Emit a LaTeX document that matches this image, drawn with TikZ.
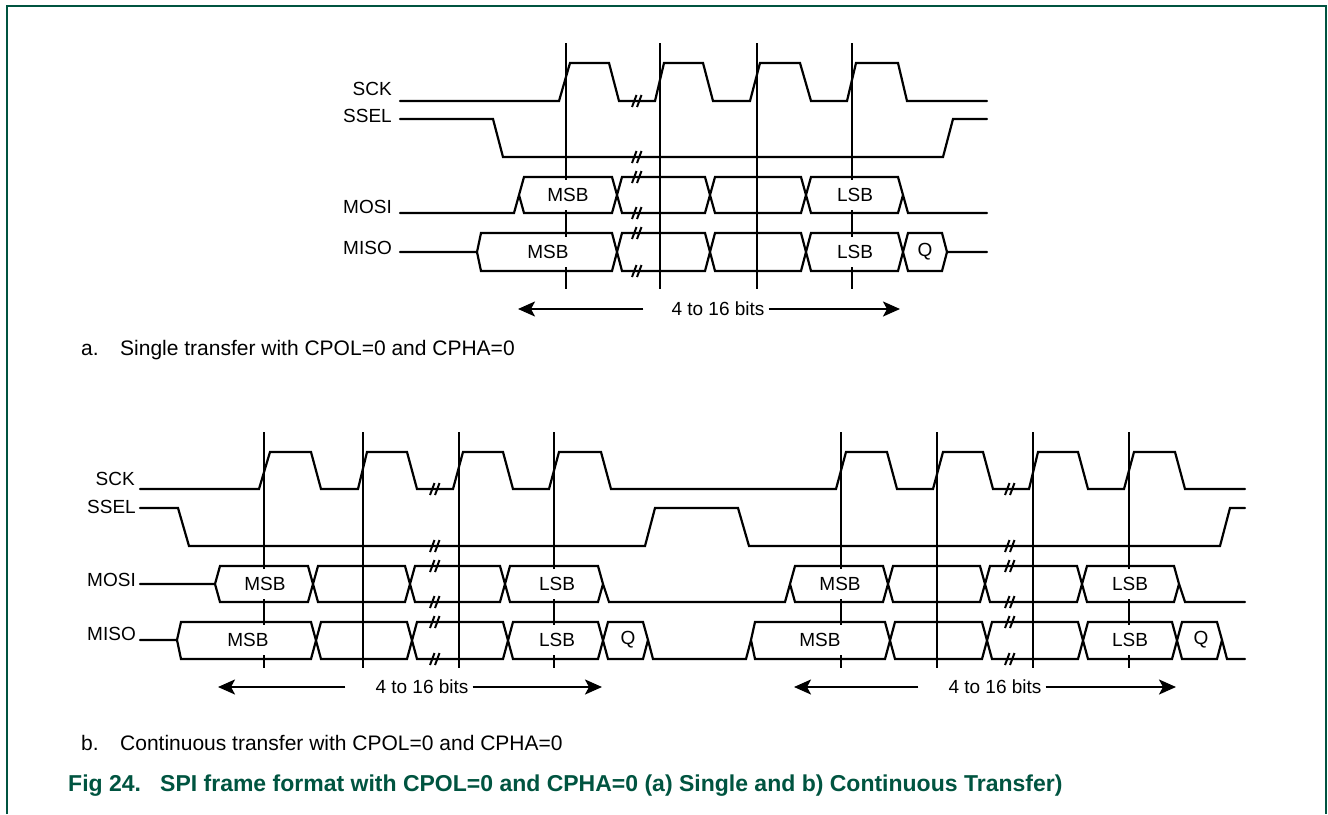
\documentclass[tikz,border=0pt]{standalone}
\usepackage{fontspec}
\setmainfont{Liberation Sans}
\usetikzlibrary{arrows.meta}
\definecolor{figgreen}{RGB}{0,84,64}

\begin{document}
\begin{tikzpicture}[x=1pt,y=-1pt,
  sig/.style={line width=2.2pt,line cap=round},
  strobe/.style={line width=2.2pt},
  brk/.style={line width=2pt},
  bit/.style={line width=2.2pt,-{Stealth[length=17pt,width=15pt,inset=4pt]}},
  signame/.style={anchor=east,inner sep=0pt,font=\fontsize{19}{22}\selectfont},
  dat/.style={fill=white,inner xsep=3pt,inner ysep=0pt,minimum height=30pt,font=\fontsize{19}{22}\selectfont},
  bits/.style={inner sep=0pt,font=\fontsize{19}{22}\selectfont},
  note/.style={anchor=west,inner sep=0pt,font=\fontsize{21}{25}\selectfont},
  figtitle/.style={anchor=west,inner sep=0pt,text=figgreen,font=\bfseries\fontsize{23}{27}\selectfont}]
  \useasboundingbox (0,0) rectangle (1328,814);
  \draw[figgreen,line width=1.8pt] (7,814) -- (7,6) -- (1326,6) -- (1326,814);

  % a. single transfer
  \foreach \x in {566,660,757,852} \draw[strobe] (\x,43) -- (\x,289);
  \draw[sig] (400,101) -- (559,101) -- (570,63) -- (609,63) -- (619,101) -- (655,101) -- (664,63) -- (703,63) -- (713,101) -- (750,101) -- (760,63) -- (800,63) -- (811,101) -- (847,101) -- (856,63) -- (898,63) -- (907,101) -- (987,101);
  \draw[sig] (400,119) -- (493,119) -- (503,157) -- (943,157) -- (953,119) -- (987,119);
  \draw[sig] (400,213) -- (514,213) -- (519,195) -- (524,177) -- (612,177) -- (622,213) -- (705,213) -- (715,177) -- (801,177) -- (811,213) -- (898,213) -- (903,195) -- (908,213) -- (987,213)
    (519,195) -- (524,213) -- (612,213) -- (622,177) -- (705,177) -- (715,213) -- (801,213) -- (811,177) -- (898,177) -- (903,195);
  \draw[sig] (400,252) -- (477,252) -- (481,233) -- (612,233) -- (622,271) -- (705,271) -- (715,233) -- (801,233) -- (811,271) -- (898,271) -- (908,233) -- (942,233) -- (947,252) -- (987,252)
    (477,252) -- (481,271) -- (612,271) -- (622,233) -- (705,233) -- (715,271) -- (801,271) -- (811,233) -- (898,233) -- (908,271) -- (942,271) -- (947,252);
  \foreach \y in {101,157,177,213,233,271} \draw[brk] (632,\y+6) -- (636.5,\y-6) (637,\y+6) -- (641.5,\y-6);
  \node[signame] (sckA) at (392,89) {SCK};
  \node[signame] (sselA) at (392,116) {SSEL};
  \node[signame] (mosiA) at (392,207) {MOSI};
  \node[signame] (misoA) at (392,248) {MISO};
  \node[dat] (mosiMsbA) at (568,195) {MSB};
  \node[dat] (mosiLsbA) at (855,195) {LSB};
  \node[dat] (misoMsbA) at (548,252) {MSB};
  \node[dat] (misoLsbA) at (855,252) {LSB};
  \node[dat] (misoQA) at (925,252) {Q};
  \node[bits] (bitsA) at (718,309) {4 to 16 bits};
  \coordinate (bitsAl) at (518,309);
  \coordinate (bitsAr) at (900,309);
  \draw[bit] ([xshift=-28pt]bitsA.west) -- (bitsAl);
  \draw[bit] ([xshift=4pt]bitsA.east) -- (bitsAr);
  \node[note] (capAl) at (81,350) {a.};
  \node[note] (capA) at (120,350) {Single transfer with CPOL=0 and CPHA=0};

  % b. continuous transfer
  \foreach \x in {264,363,459,554,841,937,1033,1129} \draw[strobe] (\x,432) -- (\x,668);
  \draw[sig] (140,489) -- (259,489) -- (270,452) -- (311,452) -- (321,489) -- (358,489) -- (367,452) -- (407,452) -- (417,489) -- (453,489) -- (463,452) -- (503,452) -- (513,489) -- (549,489) -- (559,452) -- (601,452) -- (611,489) -- (836,489) -- (846,452) -- (887,452) -- (897,489) -- (933,489) -- (943,452) -- (983,452) -- (993,489) -- (1029,489) -- (1038,452) -- (1078,452) -- (1088,489) -- (1124,489) -- (1134,452) -- (1175,452) -- (1185,489) -- (1245,489);
  \draw[sig] (140,508) -- (178,508) -- (189,546) -- (645,546) -- (655,508) -- (738,508) -- (749,546) -- (1220,546) -- (1230,508) -- (1245,508);
  \draw[sig] (140,584) -- (215,584) -- (220,566) -- (308,566) -- (318,602) -- (405,602) -- (415,566) -- (500,566) -- (510,602) -- (598,602) -- (603,584) -- (609,602) -- (785,602) -- (790,584) -- (795,566) -- (883,566) -- (893,602) -- (980,602) -- (990,566) -- (1077,566) -- (1087,602) -- (1174,602) -- (1179,584) -- (1185,602) -- (1245,602)
    (215,584) -- (220,602) -- (308,602) -- (318,566) -- (405,566) -- (415,602) -- (500,602) -- (510,566) -- (598,566) -- (603,584)
    (790,584) -- (795,602) -- (883,602) -- (893,566) -- (980,566) -- (990,602) -- (1077,602) -- (1087,566) -- (1174,566) -- (1179,584);
  \draw[sig] (140,640) -- (177,640) -- (181,622) -- (311,622) -- (321,659) -- (407,659) -- (417,622) -- (503,622) -- (513,659) -- (598,659) -- (608,622) -- (643,622) -- (648,640) -- (653,659) -- (746,659) -- (751,640) -- (755,622) -- (885,622) -- (895,659) -- (982,659) -- (992,622) -- (1078,622) -- (1088,659) -- (1172,659) -- (1182,622) -- (1217,622) -- (1222,640) -- (1227,659) -- (1245,659)
    (177,640) -- (181,659) -- (311,659) -- (321,622) -- (407,622) -- (417,659) -- (503,659) -- (513,622) -- (598,622) -- (608,659) -- (643,659) -- (648,640)
    (751,640) -- (755,659) -- (885,659) -- (895,622) -- (982,622) -- (992,659) -- (1078,659) -- (1088,622) -- (1172,622) -- (1182,659) -- (1217,659) -- (1222,640);
  \foreach \y in {489,546,566,602,622,659} \draw[brk] (430,\y+6) -- (434.5,\y-6) (435,\y+6) -- (439.5,\y-6) (1005,\y+6) -- (1009.5,\y-6) (1010,\y+6) -- (1014.5,\y-6);
  \node[signame] (sckB) at (135,479) {SCK};
  \node[signame] (sselB) at (136,507) {SSEL};
  \node[signame] (mosiB) at (136,580) {MOSI};
  \node[signame] (misoB) at (136,634) {MISO};
  \node[dat] (mosiMsbB) at (265,584) {MSB};
  \node[dat] (mosiLsbB) at (557,584) {LSB};
  \node[dat] (misoMsbB) at (248,640) {MSB};
  \node[dat] (misoLsbB) at (557,640) {LSB};
  \node[dat] (misoQB) at (628,640) {Q};
  \node[dat] (mosiMsbC) at (840,584) {MSB};
  \node[dat] (mosiLsbC) at (1130,584) {LSB};
  \node[dat] (misoMsbC) at (820,640) {MSB};
  \node[dat] (misoLsbC) at (1130,640) {LSB};
  \node[dat] (misoQC) at (1201,640) {Q};
  \node[bits] (bitsB) at (422,687) {4 to 16 bits};
  \coordinate (bitsBl) at (218,687);
  \coordinate (bitsBr) at (602,687);
  \draw[bit] ([xshift=-30pt]bitsB.west) -- (bitsBl);
  \draw[bit] ([xshift=4pt]bitsB.east) -- (bitsBr);
  \node[bits] (bitsC) at (995,687) {4 to 16 bits};
  \coordinate (bitsCl) at (794,687);
  \coordinate (bitsCr) at (1176,687);
  \draw[bit] ([xshift=-30pt]bitsC.west) -- (bitsCl);
  \draw[bit] ([xshift=4pt]bitsC.east) -- (bitsCr);
  \node[note] (capBl) at (81,743) {b.};
  \node[note] (capB) at (120,743) {Continuous transfer with CPOL=0 and CPHA=0};

  \node[figtitle] (figNum) at (68,786) {Fig 24.};
  \node[figtitle] (figText) at (160,786) {SPI frame format with CPOL=0 and CPHA=0 (a) Single and b) Continuous Transfer)};
\end{tikzpicture}
\end{document}
